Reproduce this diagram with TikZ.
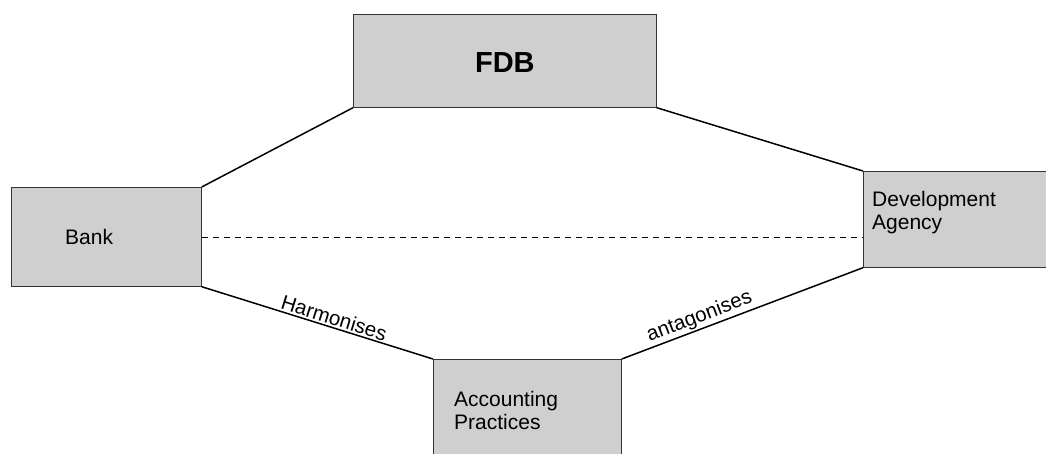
\documentclass[tikz,border=0pt]{standalone}
\usepackage{fontspec}
\setmainfont{Liberation Sans}
\begin{document}
\begin{tikzpicture}[x=1pt,y=-1pt,
  box/.style={draw=black!80, line width=0.7pt, fill=black!19, inner sep=0pt, anchor=north west},
  label/.style={font=\fontsize{21}{23}\selectfont, align=left, inner sep=0pt},
  link/.style={draw=black, line width=1.5pt},
  tag/.style={font=\fontsize{20.5}{23}\selectfont, sloped, above, inner sep=1.5pt}]
\useasboundingbox (0,0) rectangle (1046,453);
% boxes (the lower and right ones run past the page edge)
\node[box, minimum width=303pt, minimum height=93pt] (fdb) at (353,14) {};
\node[box, minimum width=190pt, minimum height=99pt] (bank) at (11,187) {};
\node[box, minimum width=195pt, minimum height=96pt] (dev) at (863,171) {};
\node[box, minimum width=188pt, minimum height=104pt] (acc) at (433,359) {};
% box texts
\node[font=\fontsize{29}{30}\selectfont\bfseries, inner sep=0pt] (fdbt) at ([yshift=-2pt]fdb.center) {FDB};
\node[label, anchor=west] (bankt) at ([xshift=54pt]bank.west) {Bank};
\node[label, anchor=north west] (devt) at ([xshift=9pt,yshift=-20pt]dev.north west) {Development\\Agency};
\node[label, anchor=north west] (acct) at ([xshift=21pt,yshift=-32pt]acc.north west) {Accounting\\Practices};
% connectors
\draw[link] (fdb.south west) -- (bank.north east);
\draw[link] (fdb.south east) -- (dev.north west);
\draw[link] (bank.south east) -- node[tag, pos=0.56] (harm) {Harmonises} (acc.north west);
\draw[link] (acc.north east) -- node[tag, pos=0.34] (anta) {antagonises} (dev.south west);
\draw[black, line width=0.8pt, dash pattern=on 6pt off 5pt] ([yshift=-1pt]bank.east) -- ([yshift=-1pt]bank.east -| dev.west);
\end{tikzpicture}
\end{document}
